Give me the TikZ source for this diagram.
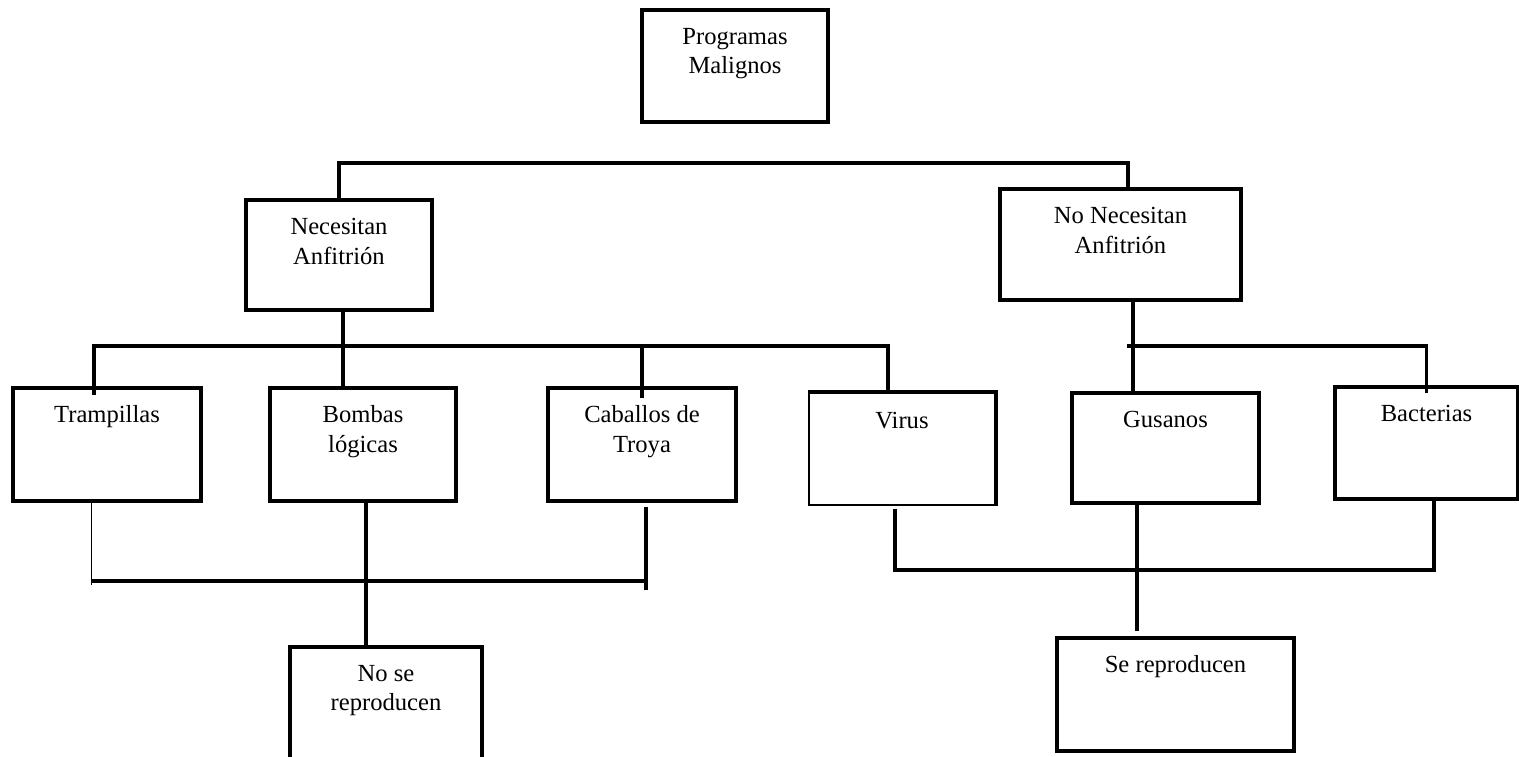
\documentclass[tikz,border=0pt]{standalone}
\usepackage{fontspec}
\setmainfont{Liberation Serif}
\usetikzlibrary{calc}
\newlength\pxu
\setlength\pxu{0.02cm}

\begin{document}
\begin{tikzpicture}[
    x=0.02cm, y=-0.02cm,
    line width=2pt,
    box/.style 2 args={draw, line width=2.1pt, minimum width=#1\pxu, minimum height=#2\pxu, inner sep=0pt},
    txt/.style={anchor=north, align=center, inner sep=0pt, yshift=-18\pxu, font=\fontsize{14}{17}\selectfont},
    thin line/.style={line width=0.9pt}
]
\useasboundingbox (0,0) rectangle (1519,757);

% Boxes
\node[box={186}{112}, label={[txt]north:Programas\\Malignos}] (prog) at (735,66) {};
\node[box={186}{110}, label={[txt]north:Necesitan\\Anfitrión}] (nec) at (339,255) {};
\node[box={241}{111}, label={[txt]north:No Necesitan\\Anfitrión}] (nonec) at (1120.5,244.5) {};
\node[box={188}{113}, label={[txt]north:Trampillas}] (tramp) at (107,444.5) {};
\node[box={186}{113}, label={[txt]north:Bombas\\lógicas}] (bombas) at (363,444.5) {};
\node[box={188}{113}, label={[txt]north:Caballos de\\Troya}] (caballos) at (642,444.5) {};
\node[box={186}{112}, thin line, label={[txt]north:Virus}] (virus) at (902,449) {};
\node[box={187}{110}, label={[txt]north:Gusanos}] (gusanos) at (1165.5,448) {};
\node[box={183}{112}, label={[txt]north:Bacterias}] (bacterias) at (1426.5,443) {};
\node[box={192}{113}, label={[txt]north:No se\\reproducen}] (noser) at (386,703.5) {};
\node[box={237}{113}, label={[txt]north:Se reproducen}] (ser) at (1175.5,694.5) {};

% Virus box: top and right edges are thick
\draw[line width=2.1pt] (virus.north west) -- (virus.north east) -- (virus.south east);

% Bus lines
\coordinate (bus0) at (0,163);
\coordinate (bus1) at (0,346);
\coordinate (bus2) at (0,581);
\coordinate (bus3) at (0,570);

% Attach points
\coordinate (nonec-in) at ([xshift=7.5\pxu]nonec.north);
\coordinate (nec-out) at ([xshift=4\pxu]nec.south);
\coordinate (nonec-out) at ([xshift=12.5\pxu]nonec.south);
\coordinate (tramp-in) at ([xshift=-13\pxu]tramp.north);
\coordinate (virus-in) at ([xshift=-14\pxu]virus.north);
\coordinate (tramp-out) at ([xshift=-15.5\pxu]tramp.south);
\coordinate (bombas-out) at ([xshift=3\pxu]bombas.south);
\coordinate (caballos-out) at ([xshift=4\pxu]caballos.south);
\coordinate (virus-out) at ([xshift=-7\pxu]virus.south);
\coordinate (gusanos-out) at ([xshift=-28.5\pxu]gusanos.south);
\coordinate (bacterias-out) at ([xshift=7.5\pxu]bacterias.south);

% Lines from Programas Malignos level
\draw[shorten <=-4\pxu] (nec.north) |- (nonec-in |- bus0) -- (nonec-in);

% Lines from Necesitan Anfitrion
\draw (nec-out) -- (nec-out |- bombas.north);
\draw[shorten <=-9\pxu] (tramp-in) |- (virus-in |- bus1) -- (virus-in);
\draw[shorten <=-12\pxu] (caballos.north) -- (caballos.north |- bus1);

% Lines from No Necesitan Anfitrion
\draw (nonec-out) -- (nonec-out |- gusanos.north);
\draw[shorten >=-8\pxu] ([xshift=-6\pxu]nonec-out |- bus1) -- (bacterias.north |- bus1) -- (bacterias.north);

% Lines to No se reproducen
\draw[thin line] (tramp-out) -- ([yshift=-4\pxu]tramp-out |- bus2);
\draw (tramp-out |- bus2) -- (caballos-out |- bus2);
\draw[shorten >=-9\pxu, shorten <=4\pxu] (caballos-out) -- (caballos-out |- bus2);
\draw[shorten >=-3\pxu] (bombas-out) -- (bombas-out |- noser.north);

% Lines to Se reproducen
\draw[shorten <=3\pxu] (virus-out) |- (bacterias-out |- bus3) -- (bacterias-out);
\draw[shorten >=5\pxu] (gusanos-out) -- (gusanos-out |- ser.north);

\end{tikzpicture}
\end{document}
